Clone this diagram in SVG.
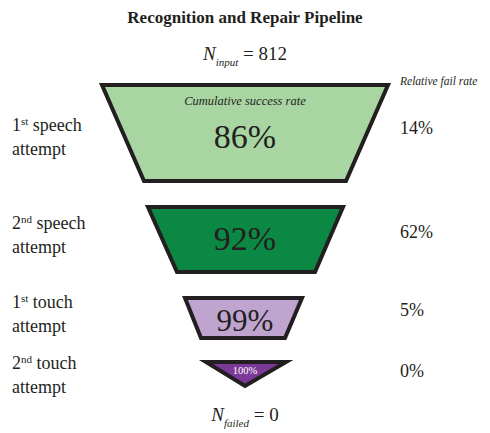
<svg xmlns="http://www.w3.org/2000/svg" width="490" height="433" viewBox="0 0 490 433">
  <style>
    text { fill: #231f20; font-family: "Liberation Serif", "Times New Roman", serif; }
    .title { font-size: 17px; font-weight: bold; text-anchor: middle; }
    .lbl { font-size: 18px; }
    .sup { font-size: 11px; }
    .big { text-anchor: middle; }
    .it { font-style: italic; }
    .stage { stroke: #231f20; stroke-width: 4; stroke-linejoin: miter; }
  </style>

  <text class="title" x="245" y="23">Recognition and Repair Pipeline</text>

  <!-- input count -->
  <text x="245" y="60" text-anchor="middle" font-size="19"><tspan class="it">N</tspan><tspan class="it" font-size="11" dy="6">input</tspan><tspan dy="-6"> = 812</tspan></text>

  <text class="it" x="400" y="85" font-size="11.5">Relative fail rate</text>

  <g id="stage1">
    <polygon class="stage" fill="#a8d5a2" points="102,85 388,85 346,181 144,181"/>
    <text class="it big" x="245" y="105" font-size="12.5">Cumulative success rate</text>
    <text class="big" x="245" y="148" font-size="34">86%</text>
  </g>

  <g id="stage2">
    <polygon class="stage" fill="#0b8843" points="148,207 343,207 315,272 177,272"/>
    <text class="big" x="245" y="250" font-size="34">92%</text>
  </g>

  <g id="stage3">
    <polygon class="stage" fill="#c0a4d0" points="185,298 302,298 285,338 201,338"/>
    <text class="big" x="245" y="331" font-size="31">99%</text>
  </g>

  <g id="stage4">
    <polygon class="stage" stroke-width="3.5" fill="#7b3a98" points="206,362 286,362 245,386"/>
    <text class="big" x="245" y="374" font-size="10.5" style="fill:#ffffff">100%</text>
  </g>

  <!-- stage labels -->
  <g id="labels">
    <text class="lbl" x="12" y="131">1<tspan class="sup" dy="-6">st</tspan><tspan dy="6"> speech</tspan></text>
    <text class="lbl" x="12" y="155">attempt</text>
    <text class="lbl" x="12" y="229">2<tspan class="sup" dy="-6">nd</tspan><tspan dy="6"> speech</tspan></text>
    <text class="lbl" x="12" y="253">attempt</text>
    <text class="lbl" x="12" y="308">1<tspan class="sup" dy="-6">st</tspan><tspan dy="6"> touch</tspan></text>
    <text class="lbl" x="12" y="332">attempt</text>
    <text class="lbl" x="12" y="369">2<tspan class="sup" dy="-6">nd</tspan><tspan dy="6"> touch</tspan></text>
    <text class="lbl" x="12" y="393">attempt</text>
  </g>

  <!-- relative fail rates -->
  <g id="rates">
    <text class="lbl" x="400" y="134">14%</text>
    <text class="lbl" x="400" y="238">62%</text>
    <text class="lbl" x="400" y="316">5%</text>
    <text class="lbl" x="400" y="377">0%</text>
  </g>

  <text x="245" y="421" text-anchor="middle" font-size="19"><tspan class="it">N</tspan><tspan class="it" font-size="11" dy="6">failed</tspan><tspan dy="-6"> = 0</tspan></text>
</svg>
